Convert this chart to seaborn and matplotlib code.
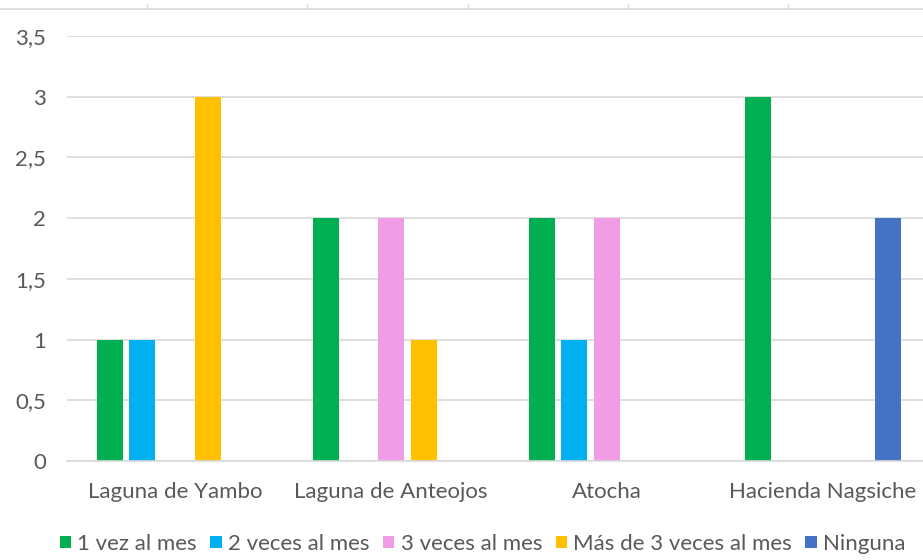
import matplotlib
matplotlib.use("Agg")
import matplotlib.pyplot as plt
import seaborn as sns
import pandas as pd
from matplotlib.patches import Patch
from matplotlib.lines import Line2D

categories = ["Laguna de Yambo", "Laguna de Anteojos", "Atocha", "Hacienda Nagsiche"]
series = ["1 vez al mes", "2 veces al mes", "3 veces al mes", "Más de 3 veces al mes", "Ninguna"]
vez1 = [1, 2, 2, 3]
veces2 = [1, 0, 1, 0]
veces3 = [0, 2, 2, 0]
mas3 = [3, 1, 0, 0]
ninguna = [0, 0, 0, 2]
colors = ["#00B050", "#00B0F0", "#F19CE6", "#FFC000", "#4472C4"]
yticks = [0, 0.5, 1, 1.5, 2, 2.5, 3, 3.5]
ytick_labels = ["0", "0,5", "1", "1,5", "2", "2,5", "3", "3,5"]

rows = []
for s, vals in zip(series, [vez1, veces2, veces3, mas3, ninguna]):
    for c, v in zip(categories, vals):
        rows.append({"cat": c, "serie": s, "val": v})
df = pd.DataFrame(rows)

sns.set_theme(style="white")
plt.rcParams["font.family"] = ["Lato", "DejaVu Sans"]

W, H = 923, 560
fig = plt.figure(figsize=(W / 100, H / 100), dpi=100)
left, right, top, bottom = 67, 931, 36, 461
ax = fig.add_axes([left / W, 1 - bottom / H, (right - left) / W, (bottom - top) / H])

sns.barplot(data=df, x="cat", y="val", hue="serie", order=categories, hue_order=series,
            palette=colors, saturation=1, width=0.757, gap=0.2, linewidth=0, errorbar=None,
            ax=ax, legend=False)

ax.set_ylim(0, 3.5)
ax.set_xlim(-0.5, 3.5)
ax.set_yticks(yticks)
ax.set_yticklabels(ytick_labels)
ax.yaxis.grid(True, color="#D9D9D9", linewidth=1.2)
ax.set_axisbelow(True)
for sp in ["top", "right", "left"]:
    ax.spines[sp].set_visible(False)
ax.spines["bottom"].set_color("#D9D9D9")
ax.spines["bottom"].set_linewidth(1.2)
ax.set_xlabel("")
ax.set_ylabel("")
ax.tick_params(axis="both", length=0, colors="#595959", labelsize=16)
ax.tick_params(axis="y", pad=15)
ax.tick_params(axis="x", pad=15)

handles = [Patch(facecolor=c, edgecolor="none", label=s) for c, s in zip(colors, series)]
fig.legend(handles=handles, loc="center", bbox_to_anchor=(0.523, 1 - 544 / H), ncol=5,
           frameon=False, fontsize=16, handlelength=0.5, handleheight=0.5,
           handletextpad=0.3, columnspacing=0.6, labelcolor="#595959")

# residual axis line at very top
ytop = 1 - 9 / H
fig.add_artist(Line2D([0, 1], [ytop, ytop], transform=fig.transFigure, color="#D9D9D9", lw=1.2))
for xp in [147, 307, 468, 628, 788]:
    fig.add_artist(Line2D([xp / W, xp / W], [ytop, 1 - 4 / H], transform=fig.transFigure,
                          color="#D9D9D9", lw=1))

fig.savefig("out.png", dpi=100)
